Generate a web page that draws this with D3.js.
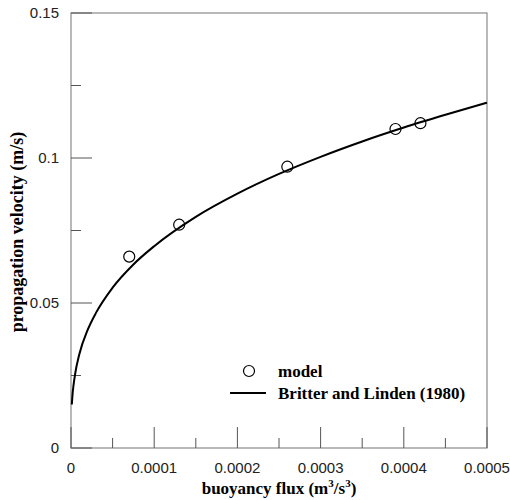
<!DOCTYPE html>
<html>
<head>
<meta charset="utf-8">
<script src="https://cdn.jsdelivr.net/npm/d3@7"></script>
<style>
  body { margin: 0; background: #fff; }
  .tick-label { font-family: "Liberation Sans", Arial, sans-serif; font-size: 15px; fill: #222; }
  .title { font-family: "Liberation Serif", "Times New Roman", serif; font-weight: bold; font-size: 17px; fill: #000; }
</style>
</head>
<body>
<svg id="chart" width="510" height="500"></svg>
<script>
// model results
var modelFlux = [0.00007, 0.00013, 0.00026, 0.00039, 0.00042];
var modelVelocity = [0.066, 0.077, 0.097, 0.110, 0.112];

// Britter and Linden (1980) curve
var curveFlux = [0.000001, 0.000002, 0.000003, 0.000005, 0.00001, 0.00002, 0.00003, 0.00005,
  0.000075, 0.0001, 0.00015, 0.0002, 0.00025, 0.0003, 0.00035, 0.0004, 0.00045, 0.0005];
var curveVelocity = [0.015, 0.019, 0.0216, 0.0256, 0.0323, 0.0407, 0.0466, 0.0553,
  0.0633, 0.0696, 0.0797, 0.0877, 0.0945, 0.1004, 0.1057, 0.1105, 0.1149, 0.1191];

var xTicks = [0, 0.0001, 0.0002, 0.0003, 0.0004, 0.0005];
var xTickLabels = ['0', '0.0001', '0.0002', '0.0003', '0.0004', '0.0005'];
var xMinorTicks = [0.00005, 0.00015, 0.00025, 0.00035, 0.00045];
var yTicks = [0, 0.05, 0.1, 0.15];
var yTickLabels = ['0', '0.05', '0.1', '0.15'];
var yMinorTicks = [0.025, 0.075, 0.125];

(function() {
  var plotLeft = 71, plotRight = 487, plotTop = 13, plotBottom = 448;

  var svg = d3.select('#chart');
  var x = d3.scaleLinear().domain([0, 0.0005]).range([plotLeft, plotRight]);
  var y = d3.scaleLinear().domain([0, 0.15]).range([plotBottom, plotTop]);

  // frame
  svg.append('rect')
    .attr('x', plotLeft).attr('y', plotTop)
    .attr('width', plotRight - plotLeft).attr('height', plotBottom - plotTop)
    .attr('fill', 'none').attr('stroke', '#8a8a8a').attr('stroke-width', 1.2);

  // x axis ticks
  svg.append('g').selectAll('line').data(xTicks).enter().append('line')
    .attr('x1', x).attr('x2', x)
    .attr('y1', plotBottom).attr('y2', plotBottom - 21)
    .attr('stroke', '#555').attr('stroke-width', 1);
  svg.append('g').selectAll('line').data(xMinorTicks).enter().append('line')
    .attr('x1', x).attr('x2', x)
    .attr('y1', plotBottom).attr('y2', plotBottom - 10)
    .attr('stroke', '#555').attr('stroke-width', 1);
  svg.append('g').selectAll('text').data(xTicks).enter().append('text')
    .classed('tick-label', true)
    .attr('x', x).attr('y', plotBottom + 25)
    .attr('text-anchor', 'middle')
    .text(function(d, i) { return xTickLabels[i]; });

  // y axis ticks
  svg.append('g').selectAll('line').data(yTicks).enter().append('line')
    .attr('x1', plotLeft).attr('x2', plotLeft + 21)
    .attr('y1', y).attr('y2', y)
    .attr('stroke', '#555').attr('stroke-width', 1);
  svg.append('g').selectAll('line').data(yMinorTicks).enter().append('line')
    .attr('x1', plotLeft).attr('x2', plotLeft + 10)
    .attr('y1', y).attr('y2', y)
    .attr('stroke', '#555').attr('stroke-width', 1);
  svg.append('g').selectAll('text').data(yTicks).enter().append('text')
    .classed('tick-label', true)
    .attr('x', plotLeft - 12).attr('y', function(d) { return y(d) + 5; })
    .attr('text-anchor', 'end')
    .text(function(d, i) { return yTickLabels[i]; });

  // axis titles
  var xTitle = svg.append('text').classed('title', true)
    .attr('x', 279).attr('y', 494).attr('text-anchor', 'middle');
  xTitle.append('tspan').text('buoyancy flux (m');
  xTitle.append('tspan').attr('dy', -7).style('font-size', '11px').text('3');
  xTitle.append('tspan').attr('dy', 7).text('/s');
  xTitle.append('tspan').attr('dy', -7).style('font-size', '11px').text('3');
  xTitle.append('tspan').attr('dy', 7).text(')');

  svg.append('text').classed('title', true)
    .style('font-size', '18px')
    .attr('transform', 'translate(23,232) rotate(-90)')
    .attr('text-anchor', 'middle')
    .text('propagation velocity (m/s)');

  // curve
  var curveData = curveFlux.map(function(f, i) { return [f, curveVelocity[i]]; });
  var line = d3.line()
    .x(function(d) { return x(d[0]); })
    .y(function(d) { return y(d[1]); })
    .curve(d3.curveMonotoneX);
  svg.append('path').datum(curveData)
    .attr('d', line)
    .attr('fill', 'none').attr('stroke', '#000').attr('stroke-width', 2);

  // model points
  svg.append('g').selectAll('circle').data(modelFlux).enter().append('circle')
    .attr('cx', x)
    .attr('cy', function(d, i) { return y(modelVelocity[i]); })
    .attr('r', 5.5)
    .attr('fill', 'none').attr('stroke', '#000').attr('stroke-width', 1.2);

  // legend
  var legend = svg.append('g');
  legend.append('circle').attr('cx', 249).attr('cy', 371).attr('r', 5.5)
    .attr('fill', 'none').attr('stroke', '#000').attr('stroke-width', 1.2);
  legend.append('text').classed('title', true).attr('x', 278).attr('y', 377).text('model');
  legend.append('line').attr('x1', 230).attr('x2', 266).attr('y1', 393).attr('y2', 393)
    .attr('stroke', '#000').attr('stroke-width', 2);
  legend.append('text').classed('title', true).attr('x', 278).attr('y', 399).text('Britter and Linden (1980)');
})();
</script>
</body>
</html>
